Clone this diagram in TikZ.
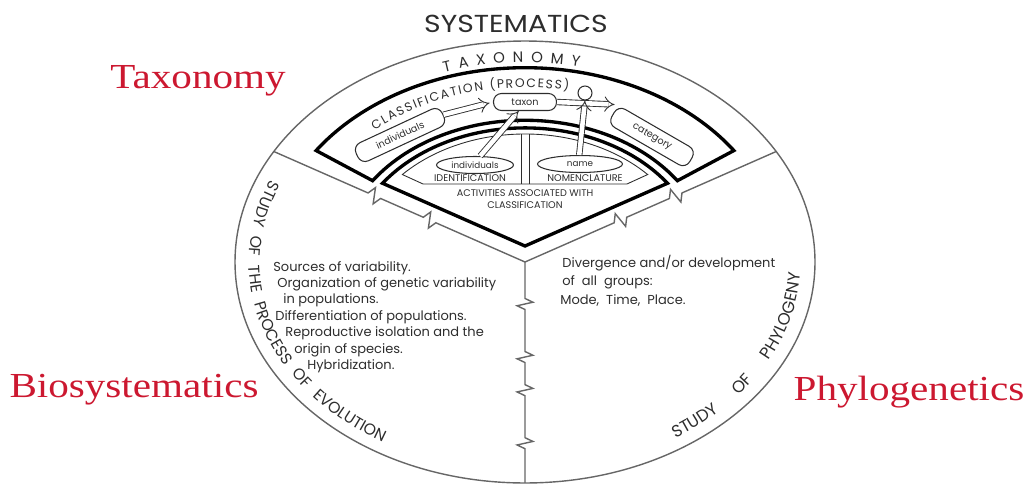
\documentclass[tikz,border=0pt]{standalone}
\usepackage{graphicx}
\usepackage{fontspec}
\setmainfont{Liberation Serif}
\newfontfamily\geo{Poppins}
\usetikzlibrary{arrows.meta,calc,shapes.geometric,decorations.text}
\definecolor{labelred}{RGB}{204,24,48}
\definecolor{ink}{RGB}{45,45,45}

\begin{document}
\begin{tikzpicture}[x=0.02cm, y=0.02cm,
  rim/.style={draw=black!60, line width=0.8pt},
  heavy/.style={draw=black, line width=1.9pt},
  pill/.style={draw=ink, line width=0.6pt, rounded corners=0.16cm, inner sep=0pt, text=ink, font=\geo\fontsize{5.5}{6}\selectfont},
  oval/.style={draw=ink, line width=0.6pt, ellipse, inner sep=0pt, text=ink, font=\geo\fontsize{5}{6}\selectfont},
  hollow/.style={draw=ink, double=white, double distance=2.6pt, line width=0.5pt, -{Implies}},
  caps/.style={text=ink, inner sep=0.5pt, font=\geo\fontsize{5.5}{6.5}\selectfont},
  note/.style={anchor=west, inner sep=0pt, text=ink, font=\geo\fontsize{7.4}{8}\selectfont},
  redlabel/.style={anchor=base, text=labelred, font=\fontsize{20}{24}\selectfont}]
\useasboundingbox (0,0) rectangle (1030,485);

% rim, band and wedge (circle squeezed to the ellipse)
\begin{scope}[shift={(525,223)}, yscale=0.762]
  \draw[rim] (0,0) circle[radius=290];
  \coordinate (O) at (0,0);
  \coordinate (rimL) at (150:290);
  \coordinate (rimR) at (30:290);
  \coordinate (rimB) at (270:290);
  \draw[heavy] (35:255) arc[start angle=35, end angle=145, radius=255]
    -- (145:186) arc[start angle=145, end angle=35, radius=186] -- cycle;
  \draw[heavy] (0,21) -- (144.05:176) arc[start angle=144.05, end angle=35.95, radius=176] -- cycle;
  \draw[draw=ink, line width=0.5pt] (-102,102.4) -- (136.9:168) arc[start angle=136.9, end angle=43.1, radius=168] -- (102,102.4) -- cycle;
  \draw[draw=ink, line width=0.5pt] (-4,102.4) -- (-4,168) (4,102.4) -- (4,168);
\end{scope}

% broken radii
\foreach \e/\cuts in {rimL/{0.38,0.6}, rimR/{0.38,0.6}, rimB/{0.19,0.43,0.58,0.82}}
  \draw[rim] (O) \foreach \s in \cuts {
    -- ($(O)!{\s-0.025}!(\e)$) -- ($(O)!{\s-0.008}!(\e)!4.5pt!90:(\e)$)
    -- ($(O)!{\s+0.008}!(\e)!4.5pt!-90:(\e)$) -- ($(O)!{\s+0.025}!(\e)$)} -- (\e);

% lettering along the arcs
\begin{scope}[shift={(525,223)}]
  \path[decorate, decoration={text along path, text color=ink, text align={fit to path stretching spaces},
    text={|\geo\fontsize{8.5}{9}\selectfont|T A X O N O M Y}}]
    (108:262 and 199.6) arc[start angle=108, end angle=78, x radius=262, y radius=199.6];
  \path[decorate, decoration={text along path, text color=ink, text align={fit to path},
    text={|\geo\fontsize{7}{8}\selectfont|CLASSIFICATION (PROCESS)}}]
    (131:229 and 174.5) arc[start angle=131, end angle=79, x radius=229, y radius=174.5];
  \path[decorate, decoration={text along path, text color=ink, text align={fit to path stretching spaces},
    text={|\geo\fontsize{9}{10}\selectfont|STUDY OF THE PROCESS OF EVOLUTION}}]
    (157:276 and 210.3) arc[start angle=157, end angle=239, x radius=276, y radius=210.3];
  \path[decorate, decoration={text along path, text color=ink, text align={fit to path stretching spaces},
    text={|\geo\fontsize{9.5}{10}\selectfont|STUDY OF PHYLOGENY}}]
    (303:276 and 210.3) arc[start angle=303, end angle=357, x radius=276, y radius=210.3];
\end{scope}

\node[anchor=base, text=ink, font=\geo\fontsize{14}{16}\selectfont] (sysLbl) at (516,453) {\scalebox{1.15}[1]{SYSTEMATICS}};
\node[redlabel] (taxLbl) at (198,397) {\scalebox{1.17}[1]{Taxonomy}};
\node[redlabel] (bioLbl) at (134,88) {\scalebox{1.17}[1]{Biosystematics}};
\node[redlabel] (phyLbl) at (909,85) {\scalebox{1.17}[1]{Phylogenetics}};

% classification band
\node[pill, rotate=25, minimum width=1.9cm, minimum height=0.4cm] (indiv) at (400,350) {individuals};
\node[pill, minimum width=1.26cm, minimum height=0.34cm] (taxon) at (525,383) {taxon};
\node[pill, rotate=-30, minimum width=1.8cm, minimum height=0.42cm] (catg) at (652,348) {category};
\node[oval, minimum width=1.54cm, minimum height=0.34cm] (indivO) at (475,320) {individuals};
\node[oval, minimum width=1.7cm, minimum height=0.34cm] (nameO) at (580,321) {name};
\node[caps, anchor=south] (ident) at (470,302) {IDENTIFICATION};
\node[caps, anchor=south] (nomen) at (585,302) {NOMENCLATURE};
\node[caps, align=center] (activ) at (525,286) {ACTIVITIES ASSOCIATED WITH\\CLASSIFICATION};

\draw[hollow, shorten >=2pt] (indiv.east) -- (taxon.west);
\draw[hollow, shorten >=2pt] (taxon.east) -- (catg.north west);
\draw[hollow] (indivO.60) -- (taxon.235);
\node[draw=ink, circle, line width=0.6pt, minimum size=0.28cm, inner sep=0pt] (knot) at (585,392) {};
\draw[hollow] (nameO.95) -- (knot.south);

% sector notes
\foreach \x/\y/\t [count=\i] in {273/217/{Sources of variability.}, 277/201/{Organization of genetic variability},
    283/185/{in populations.}, 275/168/{Differentiation of populations.}, 285/152/{Reproductive isolation and the},
    294/135/{origin of species.}, 307/119/{Hybridization.}}
  \node[note] (evo\i) at (\x,\y) {\t};
\foreach \x/\y/\t [count=\i] in {562/222/{Divergence and/or development}, 562/203/{of\ \ all\ \ groups:}, 560/185/{Mode,\ \ Time,\ \ Place.}}
  \node[note] (phy\i) at (\x,\y) {\t};
\end{tikzpicture}
\end{document}
